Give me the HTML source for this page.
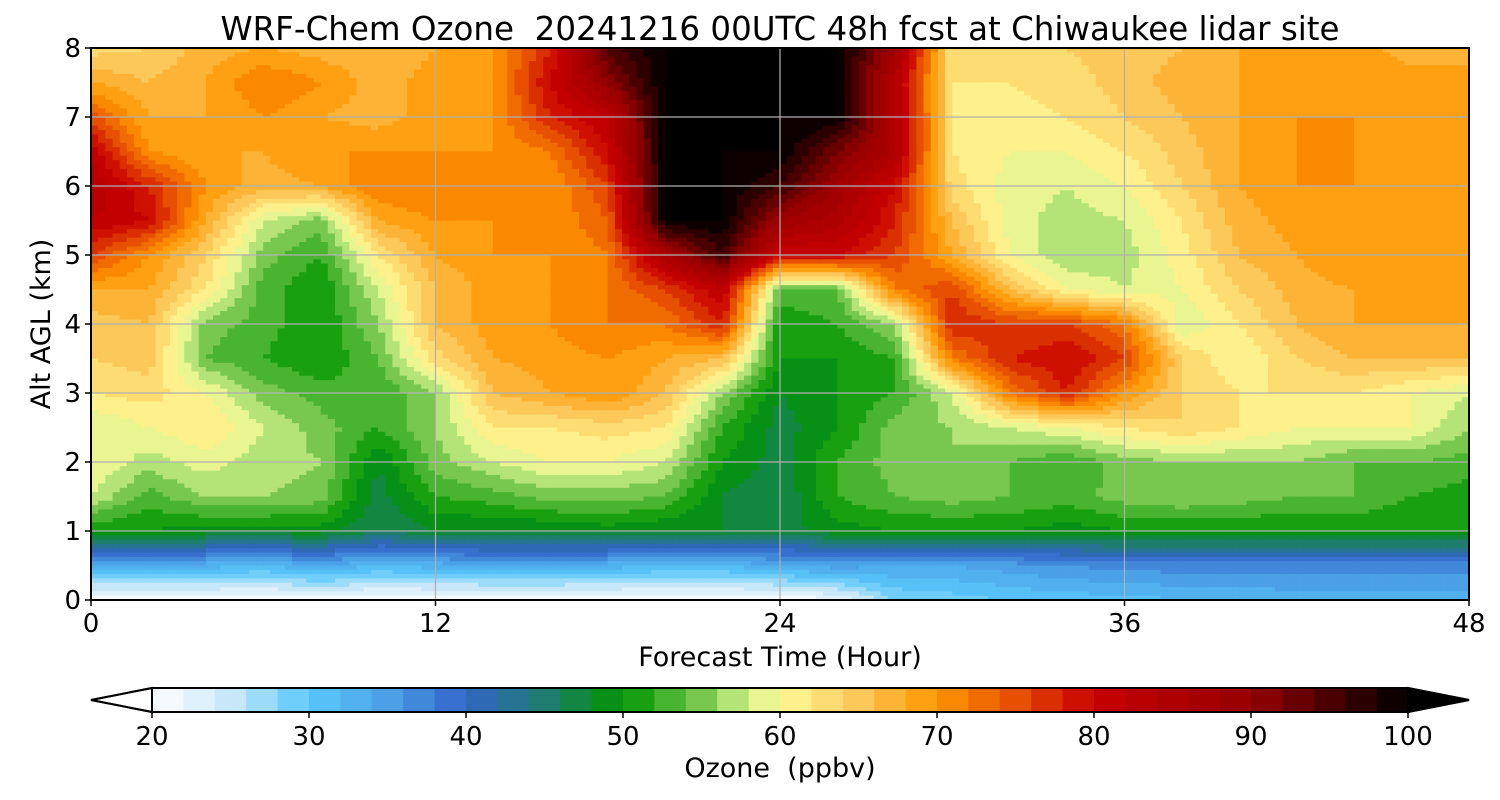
<!DOCTYPE html>
<html><head><meta charset="utf-8">
<style>
body{margin:0;background:#fff;}
svg{display:block;font-family:"DejaVu Sans","Liberation Sans",sans-serif;}
</style></head>
<body>
<svg id="chart" width="1500" height="800" viewBox="0 0 1500 800" xmlns="http://www.w3.org/2000/svg">
<text x="780" y="40" font-size="32.5" text-anchor="middle" xml:space="preserve">WRF-Chem Ozone  20241216 00UTC 48h fcst at Chiwaukee lidar site</text>
<g id="cells"></g>
<g id="grid"></g>
<rect x="91" y="48" width="1378" height="552" fill="none" stroke="#000" stroke-width="2"/>
<g id="axes"></g>
<text x="780" y="666" font-size="27" text-anchor="middle">Forecast Time (Hour)</text>
<text transform="translate(50,324) rotate(-90)" font-size="27" text-anchor="middle">Alt AGL (km)</text>
<g id="cbar"></g>
<text x="780" y="777" font-size="27" text-anchor="middle" xml:space="preserve">Ozone  (ppbv)</text>
</svg>
<script>
const hours = [0,2,4,6,8,10,12,14,16,18,20,22,24,26,28,30,32,34,36,38,40,42,44,46,48];
const alts = [8,7.5,7,6.5,6,5.5,5,4.5,4,3.5,3,2.5,2,1.5,1,0.5,0];
const ozone = [
[63,64,67,68,67,66,68,70,78,95,100,100,100,100,88,62,62,64,65,66,68,68,69,67,68],
[68,66,68,72,70,67,69,70,80,90,100,100,100,100,84,62,62,63,65,67,68,69,70,69,68],
[75,68,68,70,68,67,69,70,78,82,100,100,100,100,85,62,61,62,64,66,68,70,70,69,68],
[82,70,68,68,70,70,70,70,72,80,100,100,100,92,85,62,60,60,62,65,68,70,70,69,68],
[84,78,70,67,68,72,72,70,70,76,100,100,96,88,80,63,59,58,60,64,68,70,70,69,68],
[82,80,68,58,55,68,70,70,70,74,100,100,88,85,78,66,59,57,58,62,67,69,70,69,68],
[76,70,64,55,52,62,68,70,70,72,86,96,80,80,76,68,60,56,57,61,66,68,70,69,69],
[68,68,62,53,50,58,66,69,70,72,76,82,54,54,72,76,66,60,58,60,64,67,68,69,69],
[65,66,55,53,50,56,66,69,70,72,72,78,50,52,56,78,76,76,72,58,62,66,68,68,68],
[64,65,54,52,50,54,63,68,69,70,68,66,50,50,52,72,78,80,76,64,60,64,66,66,66],
[62,63,60,55,53,52,56,66,68,70,66,56,48,50,52,58,72,78,70,64,62,62,62,60,58],
[58,60,62,58,55,52,56,62,62,63,62,52,47,50,55,56,58,60,62,64,62,60,60,60,56],
[60,57,59,57,56,48,55,58,60,60,58,50,47,52,55,56,54,52,55,56,56,56,54,54,53],
[58,53,56,56,55,47,52,53,55,55,54,48,46,52,54,55,54,53,55,56,55,54,54,52,51],
[50,50,49,49,49,46,48,48,48,49,48,48,47,49,50,50,50,49,50,50,50,50,50,50,50],
[33,33,33,32,34,32,33,34,34,33,32,32,34,35,34,34,35,36,37,37,37,37,37,37,37],
[20,20,20,20,21,20,20,20,20,20,20,20,20,22,28,29,30,31,31,32,32,33,33,33,33]
];
const xTicks = [0,12,24,36,48];
const yTicks = [0,1,2,3,4,5,6,7,8];
const cbTicks = [20,30,40,50,60,70,80,90,100];

const NS="http://www.w3.org/2000/svg";
const X0=91,X1=1469,Y0=600,Y1=48;
const xs=h=>X0+(h/48)*(X1-X0);
const ys=a=>Y0-(a/8)*(Y0-Y1);
const stops=[[20,[255,255,255]],[25,[200,232,250]],[30,[90,200,250]],[35,[75,160,230]],[40,[50,100,200]],[45,[30,125,110]],[50,[0,150,0]],[55,[120,200,80]],[58,[210,240,140]],[60,[255,250,150]],[65,[252,200,90]],[70,[255,150,0]],[75,[230,80,0]],[80,[200,0,0]],[90,[150,0,0]],[100,[0,0,0]]];
function cmap(v){
  v=Math.max(20,Math.min(100,v));
  for(let i=1;i<stops.length;i++){
    if(v<=stops[i][0]){const a=stops[i-1],b=stops[i];const t=(v-a[0])/(b[0]-a[0]);
      const c=a[1].map((x,k)=>Math.round(x+(b[1][k]-x)*t));return `rgb(${c[0]},${c[1]},${c[2]})`;}
  }
  return "rgb(0,0,0)";
}
const q=v=>Math.min(100,Math.floor(v/2)*2+1);
function mk(tag,attrs,parent){const e=document.createElementNS(NS,tag);for(const k in attrs)e.setAttribute(k,attrs[k]);parent.appendChild(e);return e;}

const cells=document.getElementById('cells');
const S=8;
for(let r=0;r<alts.length-1;r++){
  for(let c=0;c<hours.length-1;c++){
    const a0=alts[r],a1=alts[r+1],h0=hours[c],h1=hours[c+1];
    const v00=ozone[r][c],v01=ozone[r][c+1],v10=ozone[r+1][c],v11=ozone[r+1][c+1];
    for(let i=0;i<S;i++)for(let j=0;j<S;j++){
      const tx=(j+0.5)/S,ty=(i+0.5)/S;
      const v=(v00*(1-tx)+v01*tx)*(1-ty)+(v10*(1-tx)+v11*tx)*ty;
      const hx0=h0+(h1-h0)*j/S,hx1=h0+(h1-h0)*(j+1)/S;
      const ay0=a0+(a1-a0)*i/S,ay1=a0+(a1-a0)*(i+1)/S;
      const x=xs(hx0),y=ys(ay0);
      const el=mk('rect',{x:x.toFixed(2),y:y.toFixed(2),width:(xs(hx1)-x+0.6).toFixed(2),height:(ys(ay1)-y+0.6).toFixed(2),fill:cmap(q(v))},cells);
      
      
    }
  }
}
const grid=document.getElementById('grid'),axes=document.getElementById('axes');
xTicks.forEach(t=>{
  const x=xs(t);
  const g=mk('line',{x1:x,x2:x,y1:Y1,y2:Y0,stroke:'#b0b0b0','stroke-width':1.2},grid);
  
  
  mk('line',{x1:x,x2:x,y1:Y0,y2:Y0+6,stroke:'#000','stroke-width':1.5},axes);
  const tx=mk('text',{x:x,y:Y0+32,'font-size':26,'text-anchor':'middle'},axes);tx.textContent=t;
  
  
});
yTicks.forEach(t=>{
  const y=ys(t);
  if(t>0&&t<8){const g=mk('line',{x1:X0,x2:X1,y1:y,y2:y,stroke:'#b0b0b0','stroke-width':1.2},grid);
    
    }
  mk('line',{x1:X0-6,x2:X0,y1:y,y2:y,stroke:'#000','stroke-width':1.5},axes);
  const tx=mk('text',{x:X0-10,y:y+9,'font-size':26,'text-anchor':'end'},axes);tx.textContent=t;
  
  
});
const cb=document.getElementById('cbar');
const CX0=152,CX1=1408,CY0=688,CY1=712;
const cx=v=>CX0+(v-20)/80*(CX1-CX0);
for(let v=20;v<100;v+=2){
  const r=mk('rect',{x:cx(v),y:CY0,width:cx(v+2)-cx(v)+0.5,height:CY1-CY0,fill:cmap(v+1)},cb);
  
  
}
mk('polygon',{points:`${CX0},${CY0} 91,700 ${CX0},${CY1}`,fill:'#fff',stroke:'#000','stroke-width':2},cb);
mk('polygon',{points:`${CX1},${CY0} 1469,700 ${CX1},${CY1}`,fill:'#000',stroke:'#000','stroke-width':2},cb);
mk('polygon',{points:`91,700 ${CX0},${CY0} ${CX1},${CY0} 1469,700 ${CX1},${CY1} ${CX0},${CY1}`,fill:'none',stroke:'#000','stroke-width':2},cb);
cbTicks.forEach(t=>{
  const x=cx(t);
  mk('line',{x1:x,x2:x,y1:CY1,y2:CY1+6,stroke:'#000','stroke-width':1.5},cb);
  const tx=mk('text',{x:x,y:CY1+33,'font-size':26,'text-anchor':'middle'},cb);tx.textContent=t;
  
  
});
</script>
</body></html>
